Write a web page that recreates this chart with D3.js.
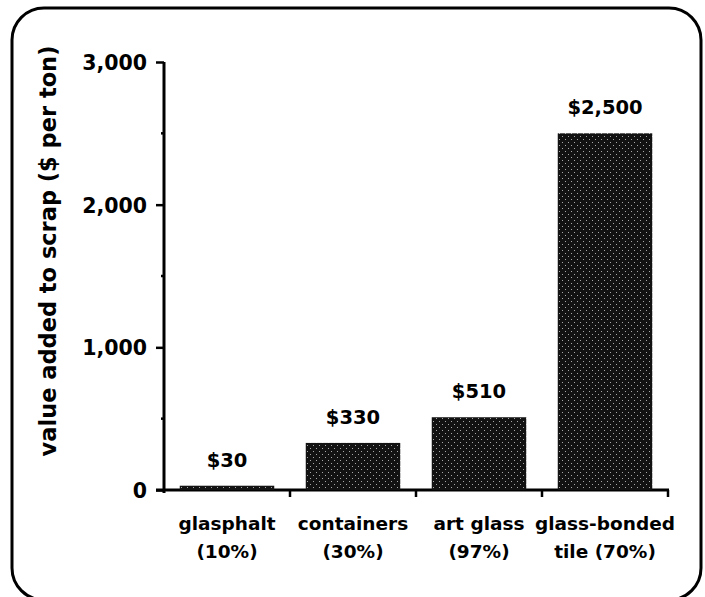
<!DOCTYPE html>
<html>
<head>
<meta charset="utf-8">
<script src="https://cdn.jsdelivr.net/npm/d3@7"></script>
<style>
  html, body { margin: 0; padding: 0; background: #fff; }
  svg { display: block; }
  text { font-family: "DejaVu Sans", "Liberation Sans", Arial, sans-serif; font-weight: bold; fill: #000; }
</style>
</head>
<body>
<script>
// Value added to scrap glass by end use
const categories = ["glasphalt", "containers", "art glass", "glass-bonded"];
const categorySub = ["(10%)", "(30%)", "(97%)", "tile (70%)"];
const values = [30, 330, 510, 2500];
const valueLabels = ["$30", "$330", "$510", "$2,500"];
const yTicks = [0, 1000, 2000, 3000];
const yMinorTicks = [500, 1500, 2500];

const W = 705, H = 597;
const margin = { left: 164, right: 37, top: 62, bottom: 107 };

const svg = d3.select("body").append("svg")
  .attr("width", W).attr("height", H);

// stipple fill for the bars
const defs = svg.append("defs");
const pat = defs.append("pattern")
  .attr("id", "stipple").attr("patternUnits", "userSpaceOnUse")
  .attr("width", 6).attr("height", 6);
pat.append("rect").attr("width", 6).attr("height", 6).attr("fill", "#121212");
pat.append("rect").attr("x", 1).attr("y", 1).attr("width", 1).attr("height", 1).attr("fill", "#a8a8a8");
pat.append("rect").attr("x", 4).attr("y", 4).attr("width", 1).attr("height", 1).attr("fill", "#a8a8a8");

// rounded frame
svg.append("rect")
  .attr("x", 12).attr("y", 8)
  .attr("width", 689).attr("height", 592)
  .attr("rx", 32).attr("ry", 32)
  .attr("fill", "none").attr("stroke", "#000").attr("stroke-width", 3);

const x = d3.scaleBand()
  .domain(categories)
  .range([margin.left, W - margin.right])
  .paddingInner(0.25).paddingOuter(0.125);

const y = d3.scaleLinear()
  .domain([0, 3000])
  .range([H - margin.bottom, margin.top]);

// y axis
const yAxis = svg.append("g")
  .attr("transform", `translate(${margin.left},0)`)
  .call(d3.axisLeft(y).tickValues(yTicks).tickFormat(d3.format(",")).tickSize(8).tickPadding(9));
yAxis.select(".domain").attr("stroke-width", 3).attr("d", `M0,${y(3000)}V${y(0) + 3}`);
yAxis.selectAll(".tick line").attr("stroke-width", 2.5);
yAxis.selectAll(".tick text")
  .style("font-size", "20.5px").attr("dy", "0.36em");
yAxis.selectAll(".minor").data(yMinorTicks).enter().append("line")
  .attr("class", "minor")
  .attr("x1", -3).attr("x2", 0)
  .attr("y1", d => y(d)).attr("y2", d => y(d))
  .attr("stroke", "#000").attr("stroke-width", 2.5);

// x axis baseline with tick marks at category boundaries
const bounds = categories.map((_, i) => margin.left + (i + 1) * (W - margin.right - margin.left) / categories.length);
const xg = svg.append("g");
xg.append("line")
  .attr("x1", margin.left - 8).attr("x2", W - margin.right + 1)
  .attr("y1", y(0)).attr("y2", y(0))
  .attr("stroke", "#000").attr("stroke-width", 3);
xg.selectAll(".xt").data(bounds).enter().append("line")
  .attr("x1", d => d).attr("x2", d => d)
  .attr("y1", y(0)).attr("y2", y(0) + 7)
  .attr("stroke", "#000").attr("stroke-width", 2.5);

// bars
svg.selectAll(".bar").data(values).enter().append("rect")
  .attr("class", "bar")
  .attr("x", (d, i) => x(categories[i]))
  .attr("width", x.bandwidth())
  .attr("y", d => y(d))
  .attr("height", d => y(0) - y(d))
  .attr("fill", "url(#stipple)");

// value labels
svg.selectAll(".val").data(values).enter().append("text")
  .attr("class", "val")
  .attr("x", (d, i) => x(categories[i]) + x.bandwidth() / 2)
  .attr("y", d => y(d) - 19)
  .attr("text-anchor", "middle")
  .style("font-size", "19.5px")
  .text((d, i) => valueLabels[i]);

// category labels
const cl = svg.selectAll(".cat").data(categories).enter().append("text")
  .attr("class", "cat")
  .attr("text-anchor", "middle")
  .style("font-size", "18.5px");
cl.append("tspan")
  .attr("x", d => x(d) + x.bandwidth() / 2).attr("y", 530)
  .text(d => d);
cl.append("tspan")
  .attr("x", d => x(d) + x.bandwidth() / 2).attr("y", 558)
  .text((d, i) => categorySub[i]);

// y axis title
svg.append("text")
  .attr("transform", `translate(56,251) rotate(-90)`)
  .attr("text-anchor", "middle")
  .style("font-size", "22.5px")
  .text("value added to scrap ($ per ton)");
</script>
</body>
</html>
